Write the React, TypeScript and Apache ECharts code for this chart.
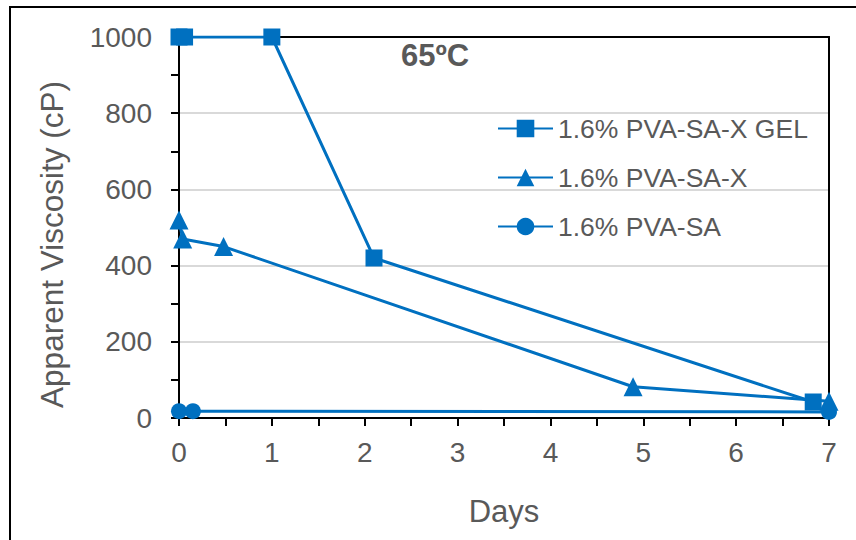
import React, { useEffect, useRef } from "react";
import * as echarts from "echarts";

// Apparent viscosity at 65ºC over time (days, cP)
const gelPoints: [number, number][] = [
  [0, 1000],
  [0.06, 1000],
  [1, 1000],
  [2.1, 420],
  [6.83, 42],
];
const xPoints: [number, number][] = [
  [0, 520],
  [0.04, 470],
  [0.48, 450],
  [4.89, 82],
  [7, 44],
];
const saPoints: [number, number][] = [
  [0, 18],
  [0.15, 18],
  [7, 16],
];
const seriesNames = ["1.6% PVA-SA-X GEL", "1.6% PVA-SA-X", "1.6% PVA-SA"];
const titleText = "65ºC";
const xAxisName = "Days";
const yAxisName = "Apparent Viscosity (cP)";

const BLUE = "#0070C0";
const TEXT = "#595959";
const FONT = "Liberation Sans, Arial, sans-serif";

// plain axis used only to close the plot frame on the top and right sides
const frameAxis = (position: string, min: number, max: number) => ({
  type: "value",
  position,
  min,
  max,
  axisLine: { show: true, onZero: false, lineStyle: { color: "#000", width: 2 } },
  axisTick: { show: false },
  axisLabel: { show: false },
  splitLine: { show: false },
  z: 5,
});

export default function App() {
  const ref = useRef<HTMLDivElement>(null);

  useEffect(() => {
    if (!ref.current) return;
    const chart = echarts.init(ref.current, undefined, { renderer: "svg" });

    const lineSeries = (name: string, data: [number, number][], symbol: string, size: number) => ({
      name,
      type: "line",
      data,
      xAxisIndex: 0,
      yAxisIndex: 0,
      symbol,
      symbolSize: size,
      showSymbol: true,
      lineStyle: { color: BLUE, width: 3 },
      itemStyle: { color: BLUE, borderWidth: 0 },
      emphasis: { disabled: true },
      z: 6,
    });

    chart.setOption({
      animation: false,
      backgroundColor: "#fff",
      textStyle: { fontFamily: FONT },
      title: {
        text: titleText,
        left: 401,
        top: 40,
        padding: 0,
        textStyle: { fontFamily: FONT, fontSize: 31, fontWeight: "bold", color: TEXT },
      },
      legend: {
        orient: "vertical",
        left: 497,
        top: 115,
        itemWidth: 55,
        itemHeight: 22,
        itemGap: 22,
        padding: 0,
        data: seriesNames,
        textStyle: { fontFamily: FONT, fontSize: 26.5, color: TEXT, lineHeight: 27, padding: [0, 0, 0, 0] },
      },
      grid: {
        left: 179,
        right: 27,
        top: 37,
        bottom: 122,
      },
      xAxis: [
        {
          type: "value",
          min: 0,
          max: 7,
          interval: 1,
          name: xAxisName,
          nameLocation: "middle",
          nameGap: 78,
          nameTextStyle: { fontFamily: FONT, fontSize: 31, color: TEXT },
          axisLine: { show: true, onZero: false, lineStyle: { color: "#000", width: 2 } },
          axisTick: { show: true, inside: false, length: 8, lineStyle: { color: "#000", width: 2 } },
          minorTick: { show: true, splitNumber: 2, length: 8, lineStyle: { color: "#000", width: 2 } },
          axisLabel: { fontFamily: FONT, fontSize: 28, color: TEXT, margin: 20 },
          splitLine: { show: false },
          z: 5,
        },
        frameAxis("top", 0, 7),
      ],
      yAxis: [
        {
          type: "value",
          min: 0,
          max: 1000,
          interval: 200,
          name: yAxisName,
          nameLocation: "middle",
          nameGap: 111,
          nameTextStyle: { fontFamily: FONT, fontSize: 31.5, color: TEXT, padding: [0, 34, 0, 0] },
          axisLine: { show: true, lineStyle: { color: "#000", width: 2 } },
          axisTick: { show: true, inside: false, length: 8, lineStyle: { color: "#000", width: 2 } },
          minorTick: { show: true, splitNumber: 2, length: 8, lineStyle: { color: "#000", width: 2 } },
          axisLabel: {
            fontFamily: FONT,
            fontSize: 28,
            color: TEXT,
            margin: 27,
            formatter: (v: number) => String(v),
          },
          splitLine: { show: true, lineStyle: { color: "#D9D9D9", width: 2 } },
          z: 5,
        },
        frameAxis("right", 0, 1000),
      ],
      graphic: [
        {
          type: "rect",
          shape: { x: 10, y: 7, width: 900, height: 600 },
          style: { fill: "none", stroke: "#000", lineWidth: 2 },
          silent: true,
          z: 100,
        },
      ],
      series: [
        lineSeries(seriesNames[0], gelPoints, "rect", 17),
        lineSeries(seriesNames[1], xPoints, "triangle", 19),
        lineSeries(seriesNames[2], saPoints, "circle", 16),
      ],
    });

    return () => chart.dispose();
  }, []);

  return <div ref={ref} style={{ width: 856, height: 540, position: "absolute", left: 0, top: 0 }} />;
}
